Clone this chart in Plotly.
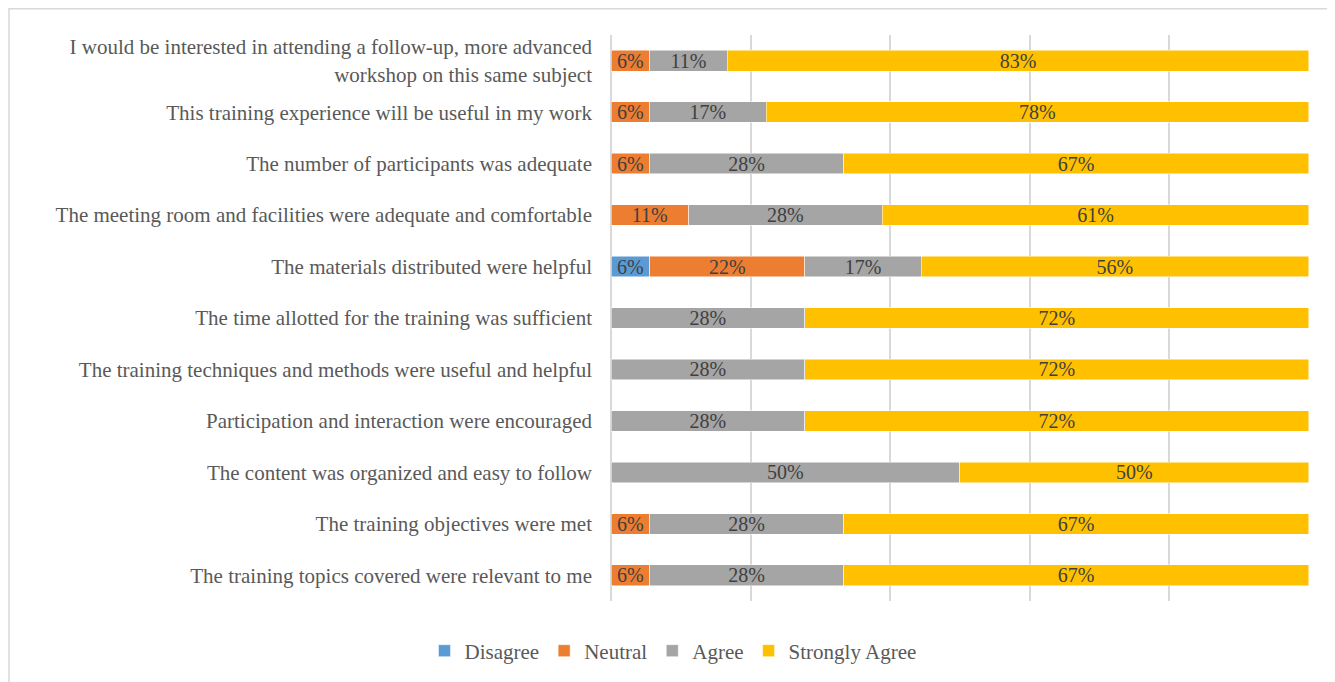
import plotly.graph_objects as go

categories = [
    "I would be interested in attending a follow-up, more advanced<br>workshop on this same subject",
    "This training experience will be useful in my work",
    "The number of participants was adequate",
    "The meeting room and facilities were adequate and comfortable",
    "The materials distributed were helpful",
    "The time allotted for the training was sufficient",
    "The training techniques and methods were useful and helpful",
    "Participation and interaction were encouraged",
    "The content was organized and easy to follow",
    "The training objectives were met",
    "The training topics covered were relevant to me",
]

disagree = [0, 0, 0, 0, 5.56, 0, 0, 0, 0, 0, 0]
neutral = [5.56, 5.56, 5.56, 11.11, 22.22, 0, 0, 0, 0, 5.56, 5.56]
agree = [11.11, 16.67, 27.78, 27.78, 16.67, 27.78, 27.78, 27.78, 50.0, 27.78, 27.78]
strongly_agree = [83.33, 77.78, 66.67, 61.11, 55.56, 72.22, 72.22, 72.22, 50.0, 66.67, 66.67]

series = [
    ("Disagree", disagree, "#5b9bd5"),
    ("Neutral", neutral, "#ed7d31"),
    ("Agree", agree, "#a5a5a5"),
    ("Strongly Agree", strongly_agree, "#ffc000"),
]

FONT = "Liberation Serif, Times New Roman, serif"

fig = go.Figure()
for name, vals, color in series:
    fig.add_trace(go.Bar(
        name=name,
        y=categories,
        x=vals,
        orientation="h",
        marker=dict(color=color, line=dict(color="white", width=0.5)),
        text=[f"{round(v)}%" if v > 0 else "" for v in vals],
        textposition="inside",
        insidetextanchor="middle",
        constraintext="none",
        textangle=0,
        textfont=dict(family=FONT, size=20, color="#404040"),
    ))

# figure is drawn at page offset (8, 8)
W, H = 1327, 674
L, R, T, B = 603, 26, 27, 81
pw, ph = W - L - R, H - T - B

def px_x(x):
    return (x - L) / pw

def px_y(y):
    return (H - B - y) / ph

fig.update_layout(
    barmode="stack",
    bargap=0.6,
    width=W, height=H,
    margin=dict(l=L, r=R, t=T, b=B, autoexpand=False),
    paper_bgcolor="white",
    plot_bgcolor="white",
    font=dict(family=FONT, size=21, color="#595959"),
    showlegend=True,
    legend=dict(
        orientation="h",
        x=px_x(665),
        xanchor="center",
        y=px_y(643),
        yanchor="middle",
        font=dict(family=FONT, size=21, color="#595959"),
        traceorder="normal",
        itemwidth=30,
        tracegroupgap=0,
    ),
    xaxis=dict(
        range=[0, 100.05],
        dtick=20,
        showticklabels=False,
        showgrid=True,
        gridcolor="#d9d9d9",
        gridwidth=1.5,
        zeroline=True,
        zerolinecolor="#d9d9d9",
        zerolinewidth=1.5,
        showline=False,
    ),
    yaxis=dict(
        autorange="reversed",
        showgrid=False,
        showline=False,
        ticks="",
        automargin=False,
        ticklabelstandoff=18,
        tickfont=dict(family=FONT, size=21, color="#595959"),
    ),
    shapes=[dict(
        type="rect", xref="paper", yref="paper",
        x0=px_x(1), x1=px_x(1323), y0=px_y(690), y1=px_y(0.8),
        line=dict(color="#d9d9d9", width=1.5),
        fillcolor="rgba(0,0,0,0)",
        layer="below",
    )],
)

fig.write_html("out.html")
